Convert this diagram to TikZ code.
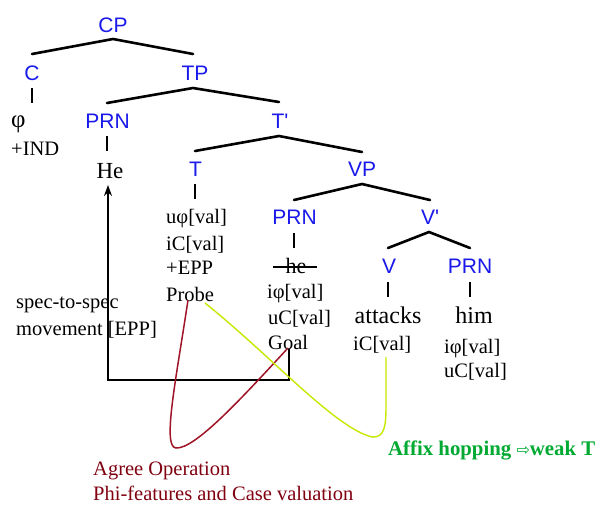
\documentclass[tikz,border=0pt]{standalone}
\usepackage{fontspec}
\setmainfont{Liberation Serif}
\setsansfont{Liberation Sans}[Ligatures=TeXOff]
\newfontfamily\djv{DejaVu Sans}
\usetikzlibrary{arrows.meta}
\definecolor{labblue}{RGB}{25,25,235}
\definecolor{agreetext}{RGB}{128,0,16}
\definecolor{agreeline}{RGB}{160,20,40}
\definecolor{affixgreen}{RGB}{0,170,50}
\definecolor{hopline}{RGB}{200,232,0}
\tikzset{
  lab/.style={font=\sffamily\fontsize{21}{21}\selectfont, text=labblue, inner sep=0pt, anchor=base},
  feat/.style={font=\fontsize{20.5}{20.5}\selectfont, inner sep=0pt, anchor=base west},
  word/.style={font=\fontsize{24}{24}\selectfont, inner sep=0pt, anchor=base},
  br/.style={line width=2.6pt, line cap=round},
  tick/.style={line width=2pt},
  mv/.style={line width=2.2pt, -{Stealth[length=11pt,width=8pt]}},
}
\begin{document}
\begin{tikzpicture}[x=1pt,y=-1pt]
\useasboundingbox[fill=white] (0,0) rectangle (601,504);
% category labels
\node[lab] (CP) at (113,32) {CP};
\node[lab] (C) at (32,80) {C};
\node[lab] (TP) at (195,80) {TP};
\node[lab] (PRN1) at (107.5,128) {PRN};
\node[lab] (Tbar) at (280,128) {T'};
\node[lab] (T) at (195.5,176) {T};
\node[lab] (VP) at (362,176) {VP};
\node[lab] (PRN2) at (294.5,224) {PRN};
\node[lab] (Vbar) at (430,224) {V'};
\node[lab] (V) at (389,273) {V};
\node[lab] (PRN3) at (470,273) {PRN};
% branch coordinates
\coordinate (cpA) at (113,39); \coordinate (cpL) at (32,54); \coordinate (cpR) at (193,54);
\coordinate (tpA) at (193,88); \coordinate (tpL) at (107,103); \coordinate (tpR) at (279,102);
\coordinate (tbA) at (279,136); \coordinate (tbL) at (195,151); \coordinate (tbR) at (362,152);
\coordinate (vpA) at (362,184); \coordinate (vpL) at (294,200); \coordinate (vpR) at (430,200);
\coordinate (vbA) at (429,232); \coordinate (vbL) at (388,248); \coordinate (vbR) at (470,248);
\draw[br] (cpL) -- (cpA) -- (cpR);
\draw[br] (tpL) -- (tpA) -- (tpR);
\draw[br] (tbL) -- (tbA) -- (tbR);
\draw[br] (vpL) -- (vpA) -- (vpR);
\draw[br] (vbL) -- (vbA) -- (vbR);
% ticks
\coordinate (cT) at (32,88); \coordinate (cB) at (32,103);
\coordinate (p1T) at (107,136); \coordinate (p1B) at (107,151);
\coordinate (tT) at (195,184); \coordinate (tB) at (195,199);
\coordinate (p2T) at (294,233); \coordinate (p2B) at (294,248);
\coordinate (vT) at (388,282); \coordinate (vB) at (388,297);
\coordinate (p3T) at (470,282); \coordinate (p3B) at (470,297);
\draw[tick] (cT) -- (cB);
\draw[tick] (p1T) -- (p1B);
\draw[tick] (tT) -- (tB);
\draw[tick] (p2T) -- (p2B);
\draw[tick] (vT) -- (vB);
\draw[tick] (p3T) -- (p3B);
% words and features
\node[feat, font=\fontsize{25}{25}\selectfont] (phi) at (11,127) {φ};
\node[feat] (ind) at (11,155) {+IND};
\node[word, font=\fontsize{23}{23}\selectfont] (He) at (110,178) {He};
\node[feat] (t1) at (166,223) {uφ[val]};
\node[feat] (t2) at (166,250) {iC[val]};
\node[feat] (t3) at (166,274) {+EPP};
\node[feat] (t4) at (166,301) {Probe};
\node[word, font=\fontsize{22}{22}\selectfont] (he) at (296,273) {he};
\coordinate (sL) at (273,267); \coordinate (sR) at (317,267);
\draw[line width=1.4pt] (sL) -- (sR);
\node[feat] (g1) at (267,298) {iφ[val]};
\node[feat] (g2) at (268,324) {uC[val]};
\node[feat] (g3) at (268,349) {Goal};
\node[word] (att) at (388,323) {attacks};
\node[feat] (a1) at (353,350) {iC[val]};
\node[word] (him) at (474,323) {him};
\node[feat] (h1) at (444,353) {iφ[val]};
\node[feat] (h2) at (444,377) {uC[val]};
\node[feat] (spec1) at (16,308) {spec-to-spec};
\node[feat] (spec2) at (16,335) {movement [EPP]};
% movement arrow
\coordinate (mvS) at (289,349);
\coordinate (mvC1) at (289,380);
\coordinate (mvC2) at (108,380);
\coordinate (mvE) at (108,185);
\draw[mv] (mvS) -- (mvC1) -- (mvC2) -- (mvE);
% agree curve
\coordinate (agS) at (188,300);
\coordinate (agB) at (176,448);
\coordinate (agE) at (288,348);
\draw[agreeline, line width=1.5pt] (agS) .. controls (176,380) and (162,447) .. (agB) .. controls (195,449) and (240,400) .. (agE);
% affix hopping curve
\coordinate (hpS) at (205,303);
\coordinate (hpB) at (372,437);
\coordinate (hpE) at (386,357);
\draw[hopline, line width=1.4pt] (hpS) .. controls (270,355) and (335,428) .. (hpB) .. controls (385,438) and (386,425) .. (386,405) -- (hpE);
% captions
\node[feat, text=agreetext] (ag1) at (93,475) {Agree Operation};
\node[feat, text=agreetext] (ag2) at (93,500) {Phi-features and Case valuation};
\node[feat, text=affixgreen, font=\bfseries\fontsize{20.8}{20.8}\selectfont] (affix) at (388,455) {Affix hopping {\djv\mdseries\fontsize{16}{16}\selectfont ⇨}weak T};
\end{tikzpicture}
\end{document}
